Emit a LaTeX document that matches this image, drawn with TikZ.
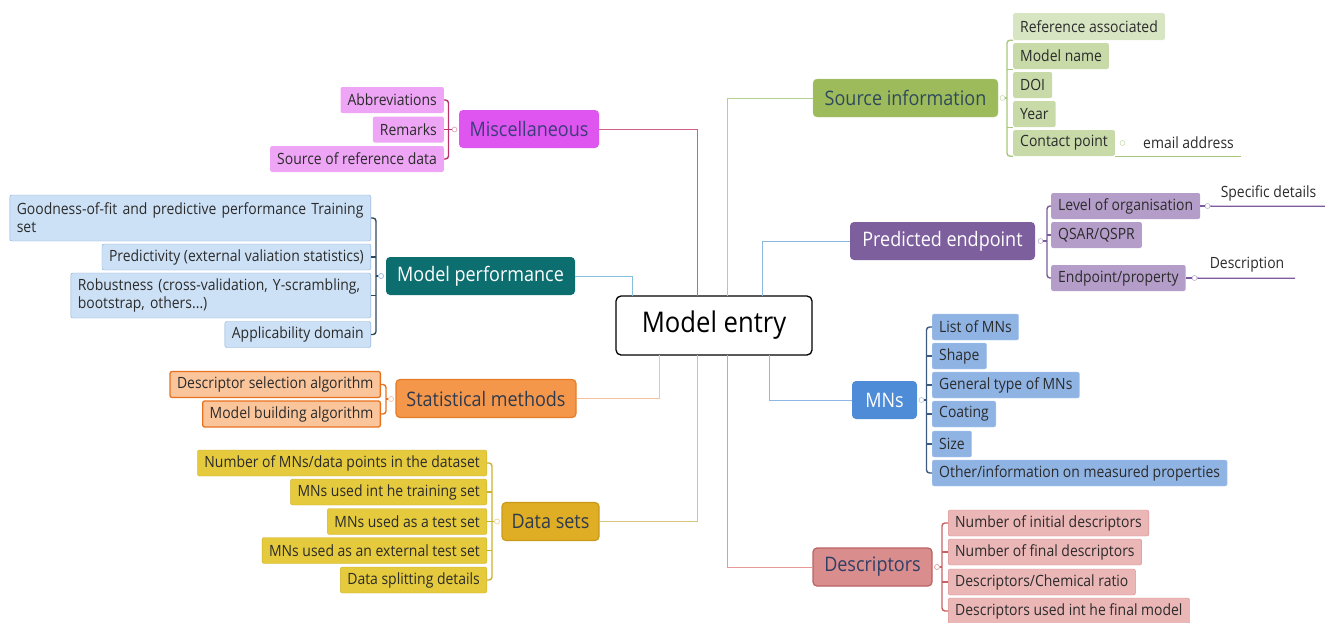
\documentclass[tikz,border=0pt]{standalone}
\usepackage{fontspec}
\setmainfont{Open Sans}[FakeStretch=0.9]
\newcommand\mmLeaf{\fontsize{15.5}{18}\selectfont}
\newcommand\mmTopic{\fontsize{20}{24}\selectfont}
\newcommand\mmRoot{\fontsize{28.5}{32}\selectfont}

% palette
\definecolor{leaftext}{HTML}{2B2B2B}
\definecolor{miscfill}{HTML}{DF55F0}\definecolor{misctext}{HTML}{3C3C7A}
\definecolor{miscleaf}{HTML}{EEA5F6}\definecolor{miscbr}{HTML}{C0306A}\definecolor{miscln}{HTML}{D0608A}
\definecolor{srcfill}{HTML}{9DBB5B}\definecolor{srcdraw}{HTML}{B2CD84}\definecolor{srctext}{HTML}{2F4A5C}
\definecolor{srcleaf}{HTML}{C7DAA8}\definecolor{srcleafA}{HTML}{D7E5C3}\definecolor{srcbr}{HTML}{A8C67E}\definecolor{srcln}{HTML}{B5D08E}
\definecolor{pefill}{HTML}{7D5F9E}\definecolor{peleaf}{HTML}{B59DC9}\definecolor{pebr}{HTML}{7B5B9B}\definecolor{peln}{HTML}{8AB8E0}
\definecolor{mpfill}{HTML}{0D6E6F}\definecolor{mpleaf}{HTML}{CDE1F6}\definecolor{mpleafd}{HTML}{84ABD8}
\definecolor{mpbr}{HTML}{2E4A5E}\definecolor{mpln}{HTML}{86C0E0}
\definecolor{stfill}{HTML}{F5974B}\definecolor{stdraw}{HTML}{E57B25}\definecolor{sttext}{HTML}{2E3A4E}
\definecolor{stleaf}{HTML}{FBC59C}\definecolor{stleafd}{HTML}{E8711E}\definecolor{stln}{HTML}{F9C09E}
\definecolor{dsfill}{HTML}{E0AE24}\definecolor{dsdraw}{HTML}{C99A1A}
\definecolor{dsleaf}{HTML}{E4CA3C}\definecolor{dsleafd}{HTML}{D0B22C}\definecolor{dsbr}{HTML}{CDB030}\definecolor{dsln}{HTML}{D6C47E}
\definecolor{mnfill}{HTML}{4F8CD8}\definecolor{mnleaf}{HTML}{8FB4E4}\definecolor{mnleafd}{HTML}{A9C7EC}
\definecolor{mnbr}{HTML}{3D5A80}\definecolor{mnln}{HTML}{8FB6E4}
\definecolor{dcfill}{HTML}{D98D8D}\definecolor{dcdraw}{HTML}{B96262}\definecolor{dctext}{HTML}{2F3F66}
\definecolor{dcleaf}{HTML}{EBB6B6}\definecolor{dcleafd}{HTML}{D78B8B}\definecolor{dcbr}{HTML}{C86262}\definecolor{dcln}{HTML}{E99898}

\tikzset{
  leaf/.style={rounded corners=2, minimum height=26, inner xsep=7, inner ysep=0,
               font=\mmLeaf, text=leaftext},
  plain/.style={inner xsep=0, inner ysep=0, font=\mmLeaf, text=leaftext},
  topic/.style={rounded corners=4, minimum height=38, inner xsep=6, font=\mmTopic},
  root/.style={draw=black, line width=1.3, rounded corners=5, fill=white,
               minimum width=196, minimum height=59, font=\mmRoot},
  knob/.style={circle, draw, fill=white, inner sep=0, minimum size=5, line width=0.6},
  br/.style={line width=1.4},
  trunk/.style={line width=1},
}

\begin{document}
\begin{tikzpicture}[x=1pt,y=-1pt]
\useasboundingbox (0,0) rectangle (1325,622);

% ---------- central topic ----------
\node[root] (root) at (714,325.5) {Model entry};
\coordinate (cMP)   at (632,296);
\coordinate (cMisc) at (697,296);
\coordinate (cSrc)  at (727,296);
\coordinate (cPE)   at (762,296);
\coordinate (cSt)   at (659,355);
\coordinate (cDS)   at (697,355);
\coordinate (cDc)   at (727,355);
\coordinate (cMN)   at (769,355);

% ---------- main topics ----------
\node[topic, fill=miscfill, text=misctext, minimum width=140] (misc) at (529,129) {Miscellaneous};
\node[topic, fill=mpfill, text=white, minimum width=189] (mp) at (480.5,276) {Model performance};
\node[topic, fill=stfill, draw=stdraw, line width=1.2, text=sttext, minimum width=180] (st) at (486,398.5) {Statistical methods};
\node[topic, fill=dsfill, draw=dsdraw, line width=1.2, text=sttext, minimum width=97] (ds) at (550.5,521.5) {Data sets};
\node[topic, fill=srcfill, draw=srcdraw, text=srctext, minimum width=185] (src) at (905.5,98) {Source information};
\node[topic, fill=pefill, text=white, minimum width=185] (pe) at (942.5,241) {Predicted endpoint};
\node[topic, fill=mnfill, text=white, minimum width=65] (mn) at (884.5,400) {MNs};
\node[topic, fill=dcfill, draw=dcdraw, line width=1.2, text=dctext, minimum width=119] (dc) at (872.5,567) {Descriptors};

% ---------- trunks to the central topic ----------
\draw[trunk, miscln] (misc.east) -| (cMisc);
\draw[trunk, mpln]   (mp.east) -| (cMP);
\draw[trunk, stln]   (st.east) -| (cSt);
\draw[trunk, dsln]   (ds.east) -| (cDS);
\draw[trunk, srcln]  (src.west) -| (cSrc);
\draw[trunk, peln]   (pe.west) -| (cPE);
\draw[trunk, mnln]   (mn.west) -| (cMN);
\draw[trunk, dcln]   (dc.west) -| (cDc);

% ---------- Miscellaneous ----------
\node[leaf, fill=miscleaf, anchor=east] (misc1) at (444,100)   {Abbreviations};
\node[leaf, fill=miscleaf, anchor=east] (misc2) at (444,129.5) {Remarks};
\node[leaf, fill=miscleaf, anchor=east] (misc3) at (444,159)   {Source of reference data};
\coordinate (miscB) at (448.5,129.5);
\node[knob, draw=miscbr!50] (miscK) at (454.5,129.5) {};
\draw[br, miscbr, rounded corners=3] (misc1.east) -| (miscB) |- (misc3.east);
\draw[br, miscbr] (misc2.east) -- (miscB) -- (miscK);

% ---------- Model performance ----------
\node[leaf, fill=mpleaf, draw=mpleafd, anchor=east, align=left, text width=347, minimum height=46] (mp1) at (371,218)
  {\mbox{Goodness-of-fit and predictive performance Training}\\set};
\node[leaf, fill=mpleaf, draw=mpleafd, anchor=east] (mp2) at (371,257) {Predictivity (external valiation statistics)};
\node[leaf, fill=mpleaf, draw=mpleafd, anchor=east, align=left, text width=286, minimum height=45] (mp3) at (371,295.5)
  {\mbox{Robustness (cross-validation, Y-scrambling,}\\\mbox{bootstrap, others...)}};
\node[leaf, fill=mpleaf, draw=mpleafd, anchor=east] (mp4) at (371,334.5) {Applicability domain};
\coordinate (mpB) at (376,276);
\node[knob, draw=mpleafd] (mpK) at (381,276) {};
\draw[br, mpbr, rounded corners=3] (mp1.east) -| (mpB) |- (mp4.east);
\draw[br, mpbr] (mp2.east) -- (mp2.east -| mpB);
\draw[br, mpbr] (mp3.east) -- (mp3.east -| mpB);
\draw[br, mpbr] (mpB) -- (mpK);

% ---------- Statistical methods ----------
\node[leaf, fill=stleaf, draw=stleafd, line width=1.3, anchor=east] (st1) at (381,384.5) {Descriptor selection algorithm};
\node[leaf, fill=stleaf, draw=stleafd, line width=1.3, anchor=east] (st2) at (381,414)   {Model building algorithm};
\coordinate (stB) at (386,399);
\node[knob, draw=stleafd!50] (stK) at (391,399) {};
\draw[br, stleafd, rounded corners=3] (st1.east) -| (stB) |- (st2.east);
\draw[br, stleafd] (stB) -- (stK);

% ---------- Data sets ----------
\node[leaf, fill=dsleaf, draw=dsleafd, anchor=east] (ds1) at (487,463)   {Number of MNs/data points in the dataset};
\node[leaf, fill=dsleaf, draw=dsleafd, anchor=east] (ds2) at (487,492)   {MNs used int he training set};
\node[leaf, fill=dsleaf, draw=dsleafd, anchor=east] (ds3) at (487,521.5) {MNs used as a test set};
\node[leaf, fill=dsleaf, draw=dsleafd, anchor=east] (ds4) at (487,550.5) {MNs used as an external test set};
\node[leaf, fill=dsleaf, draw=dsleafd, anchor=east] (ds5) at (487,580)   {Data splitting details};
\coordinate (dsB) at (492,521.5);
\node[knob, draw=dsbr!60] (dsK) at (497,521.5) {};
\draw[br, dsbr, rounded corners=3] (ds1.east) -| (dsB) |- (ds5.east);
\draw[br, dsbr] (ds2.east) -- (ds2.east -| dsB);
\draw[br, dsbr] (ds3.east) -- (dsB) -- (dsK);
\draw[br, dsbr] (ds4.east) -- (ds4.east -| dsB);

% ---------- Source information ----------
\node[leaf, fill=srcleafA, anchor=west, minimum height=27] (src1) at (1013,26.5) {Reference associated};
\node[leaf, fill=srcleaf, anchor=west] (src2) at (1013,56)  {Model name};
\node[leaf, fill=srcleaf, anchor=west] (src3) at (1013,85)  {DOI};
\node[leaf, fill=srcleaf, anchor=west] (src4) at (1013,114) {Year};
\node[leaf, fill=srcleaf, anchor=west] (src5) at (1013,143) {Contact point};
\coordinate (srcB) at (1007,98);
\node[knob, draw=srcbr!60] (srcK) at (1002.5,98) {};
\draw[br, srcbr, rounded corners=3] (src1.south west) -| (srcB) |- (src5.south west);
\draw[br, srcbr] (src2.south west) -- (src2.south west -| srcB);
\draw[br, srcbr] (src4.south west) -- (src4.south west -| srcB);
\draw[br, srcbr] (srcB) -- (srcK);
\node[knob, draw=srcbr!60] (srcK5) at (1122.5,143) {};
\node[leaf, anchor=west] (email) at (1136,143) {email address};
\draw[br, srcbr] (src5.south east) -- (email.south east);

% ---------- Predicted endpoint ----------
\node[leaf, fill=peleaf, anchor=west] (pe1) at (1051,206) {Level of organisation};
\node[leaf, fill=peleaf, anchor=west] (pe2) at (1051,235) {QSAR/QSPR};
\node[leaf, fill=peleaf, anchor=west] (pe3) at (1051,278) {Endpoint/property};
\coordinate (peB) at (1047,241);
\node[knob, draw=pebr!50] (peK) at (1040.5,241) {};
\draw[br, pebr, rounded corners=3] (pe1.west) -| (peB) |- (pe3.west);
\draw[br, pebr] (pe2.west) -- (pe2.west -| peB);
\draw[br, pebr] (peB) -- (peK);
\node[knob, draw=pebr!50] (peK1) at (1207.5,206) {};
\node[plain, minimum width=113, minimum height=26] (spec) at (1268.5,193) {Specific details};
\draw[br, pebr] (pe1.east) -- (peK1);
\draw[br, pebr] (peK1) -- (spec.south west) -- (spec.south east);
\node[knob, draw=pebr!50] (peK3) at (1194.5,278) {};
\node[plain, minimum width=96, minimum height=26] (descr) at (1247,265) {Description};
\draw[br, pebr] (pe3.east) -- (peK3);
\draw[br, pebr] (peK3) -- (descr.south west) -- (descr.south east);

% ---------- MNs ----------
\node[leaf, fill=mnleaf, draw=mnleafd, anchor=west] (mn1) at (932,327) {List of MNs};
\node[leaf, fill=mnleaf, draw=mnleafd, anchor=west] (mn2) at (932,356) {Shape};
\node[leaf, fill=mnleaf, draw=mnleafd, anchor=west] (mn3) at (932,385) {General type of MNs};
\node[leaf, fill=mnleaf, draw=mnleafd, anchor=west] (mn4) at (932,414) {Coating};
\node[leaf, fill=mnleaf, draw=mnleafd, anchor=west] (mn5) at (932,444) {Size};
\node[leaf, fill=mnleaf, draw=mnleafd, anchor=west] (mn6) at (932,473) {Other/information on measured properties};
\coordinate (mnB) at (926.5,400);
\node[knob, draw=mnleafd] (mnK) at (921.5,400) {};
\draw[br, mnbr, rounded corners=3] (mn1.west) -| (mnB) |- (mn6.west);
\draw[br, mnbr] (mn2.west) -- (mn2.west -| mnB);
\draw[br, mnbr] (mn3.west) -- (mn3.west -| mnB);
\draw[br, mnbr] (mn4.west) -- (mn4.west -| mnB);
\draw[br, mnbr] (mn5.west) -- (mn5.west -| mnB);
\draw[br, mnbr] (mnB) -- (mnK);

% ---------- Descriptors ----------
\node[leaf, fill=dcleaf, draw=dcleafd, anchor=west] (dc1) at (948,523) {Number of initial descriptors};
\node[leaf, fill=dcleaf, draw=dcleafd, anchor=west] (dc2) at (948,552) {Number of final descriptors};
\node[leaf, fill=dcleaf, draw=dcleafd, anchor=west] (dc3) at (948,582) {Descriptors/Chemical ratio};
\node[leaf, fill=dcleaf, draw=dcleafd, anchor=west] (dc4) at (948,611) {Descriptors used int he final model};
\coordinate (dcB) at (942,567);
\node[knob, draw=dcleafd] (dcK) at (937,567) {};
\draw[br, dcbr, rounded corners=3] (dc1.west) -| (dcB) |- (dc4.west);
\draw[br, dcbr] (dc2.west) -- (dc2.west -| dcB);
\draw[br, dcbr] (dc3.west) -- (dc3.west -| dcB);
\draw[br, dcbr] (dcB) -- (dcK);
\end{tikzpicture}
\end{document}
